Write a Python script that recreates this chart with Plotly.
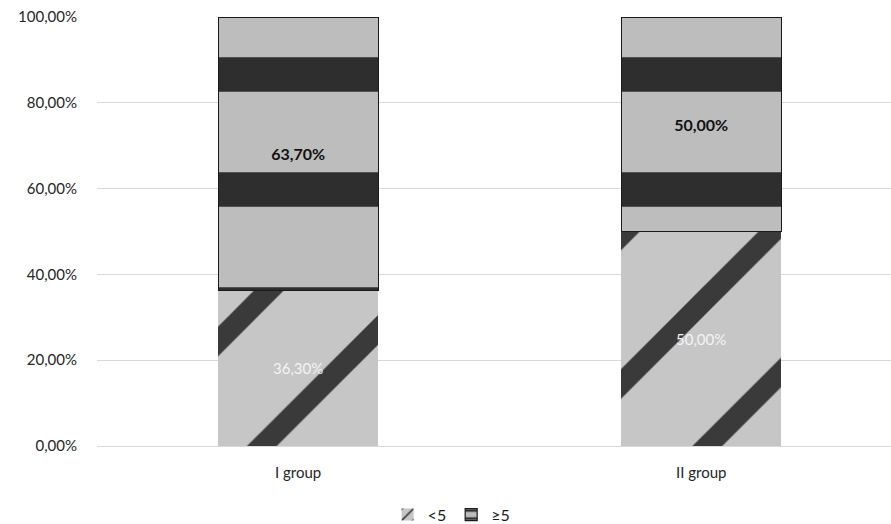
import plotly.graph_objects as go

# Share of patients per group (fractions of 1)
groups = ["I group", "II group"]
below_5 = [0.363, 0.500]
at_least_5 = [0.637, 0.500]
series_names = ["<5", "≥5"]
y_ticks = [0, 0.2, 0.4, 0.6, 0.8, 1.0]

FONT = "Lato, 'Open Sans', sans-serif"

fig = go.Figure()

fig.add_trace(go.Bar(
    x=groups, y=below_5, name=series_names[0],
    width=0.397,
    marker=dict(
        color="#c8c8c8",
        line=dict(width=0),
        pattern=dict(shape="/", fillmode="replace", bgcolor="#c6c6c6",
                     fgcolor="#3a3a3a", size=105, solidity=0.2),
    ),
    texttemplate="%{y:.2%}", textposition="inside", insidetextanchor="middle",
    textfont=dict(family=FONT, size=15, color="#f4f4f4"),
    hoverinfo="skip",
))

fig.add_trace(go.Bar(
    x=groups, y=at_least_5, name=series_names[1],
    width=0.397,
    marker=dict(
        color="#b8b8b8",
        line=dict(width=1.2, color="#1a1a1a"),
        pattern=dict(shape="-", fillmode="replace", bgcolor="#bdbdbd",
                     fgcolor="#2e2e2e", size=115, solidity=0.3),
    ),
    texttemplate="<b>%{y:.2%}</b>", textposition="inside", insidetextanchor="middle",
    textfont=dict(family=FONT, size=16, color="#111111"),
    hoverinfo="skip",
))

fig.update_layout(
    width=891, height=524,
    barmode="stack",
    separators=",.",
    paper_bgcolor="white", plot_bgcolor="white",
    margin=dict(l=97, r=0, t=17, b=78, autoexpand=False),
    font=dict(family=FONT, color="#262626"),
    showlegend=True,
    legend=dict(
        orientation="h", xref="paper", yref="paper",
        x=0.366, xanchor="left", y=-0.16, yanchor="middle",
        font=dict(family=FONT, size=16, color="#1a1a1a"),
        itemwidth=30, traceorder="normal",
    ),
)

fig.update_xaxes(
    range=[-0.499, 1.471],
    showgrid=False, showline=False, zeroline=False, ticks="",
    tickfont=dict(family=FONT, size=15, color="#262626"),
    ticklabelstandoff=16,
    fixedrange=True,
)

fig.update_yaxes(
    range=[0, 1.0],
    tickvals=y_ticks, tickformat=".2%",
    showgrid=True, gridcolor="#d9d9d9", gridwidth=1,
    zeroline=True, zerolinecolor="#d9d9d9", zerolinewidth=1,
    showline=False, ticks="",
    tickfont=dict(family=FONT, size=15, color="#262626"),
    ticklabelstandoff=19,
    fixedrange=True,
)

fig.write_html("out.html")
